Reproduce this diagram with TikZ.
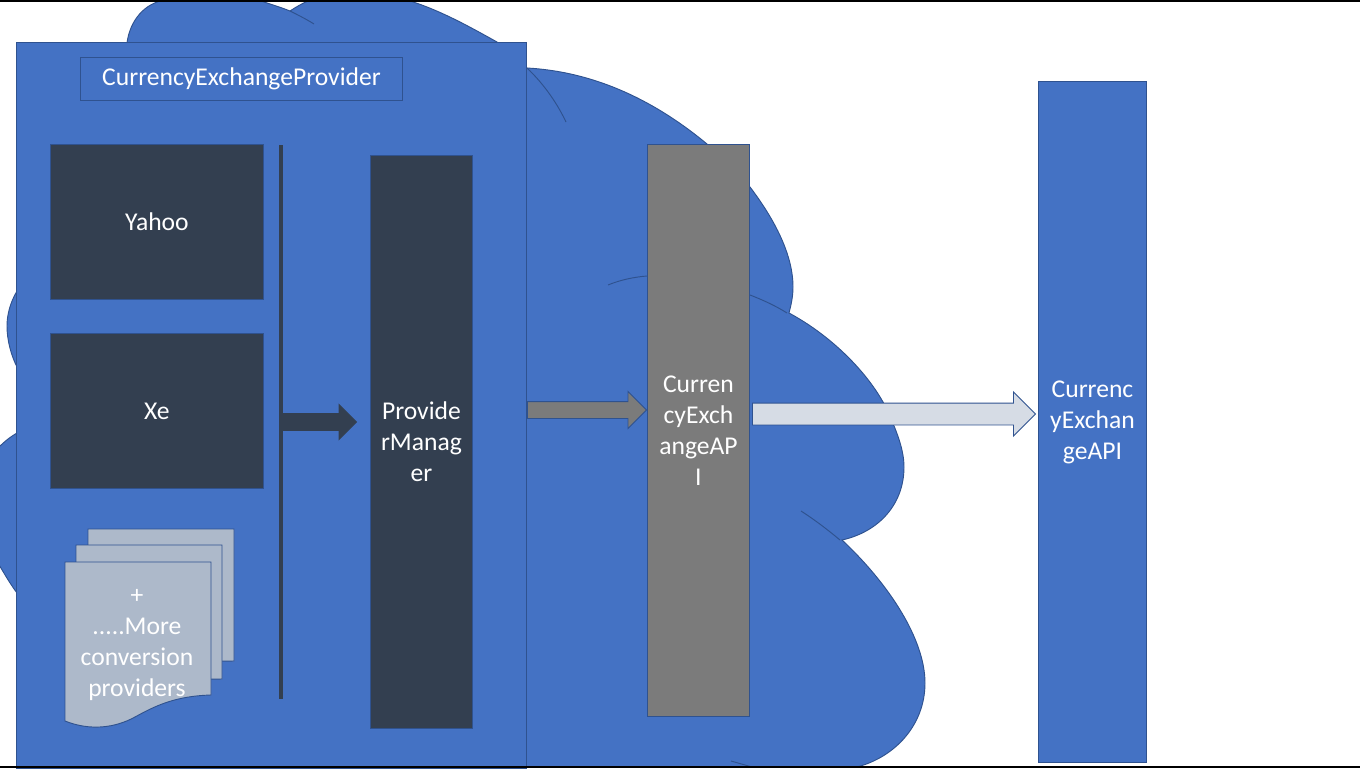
\documentclass[tikz,border=0pt]{standalone}
\usepackage{fontspec}
\setmainfont{Carlito}
\usepackage{xcolor}
\usetikzlibrary{positioning,shapes.arrows}
\definecolor{csBlue}{HTML}{4472C4}
\definecolor{csEdge}{HTML}{2F528F}
\definecolor{csDark}{HTML}{333F50}
\definecolor{csGrey}{HTML}{7B7B7B}
\definecolor{csPage}{HTML}{ADB9CA}
\definecolor{csPale}{HTML}{D6DCE5}
\tikzset{
  cs diagram/.style={font=\fontsize{19.2pt}{23.3pt}\selectfont, text=white,
    line join=miter},
  cs box/.style 2 args={draw=csEdge, fill=csBlue, line width=0.7pt, align=center,
    inner sep=0pt, anchor=north west, minimum width=#1*0.75pt, minimum height=#2*0.75pt},
  cs provider/.style 2 args={cs box={#1}{#2}, fill=csDark},
  cs service/.style 2 args={cs box={#1}{#2}, fill=csGrey},
  cs page/.style={draw=csEdge, fill=csPage, line width=0.7pt},
  cs arrow/.style n args={3}{single arrow, draw=csEdge, line width=0.7pt, inner xsep=0pt,
    inner ysep=#2*0.375pt, minimum height=#1*0.75pt,
    single arrow head extend=#3*0.75pt, anchor=tail},
  cs crease/.style={draw=csEdge, line width=0.7pt},
  cs rule/.style={draw=black, line width=1.5pt}
}
\begin{document}
\begin{tikzpicture}[cs diagram,x=0.75pt,y=-0.75pt]
\useasboundingbox (0,0) rectangle (1360,768);
\fill[white] (0,0) rectangle (1360,768);
% cloud behind everything
\draw[cs crease,fill=csBlue] (17,291) .. controls (10,303) and (7,315) .. (7,326)
  .. controls (7,340) and (11,355) .. (17,367) -- cycle;
\draw[cs crease,fill=csBlue] (17,433) .. controls (10,437) and (4,442) .. (-2,448)
  -- (-2,563) .. controls (5,575) and (11,585) .. (17,593) -- cycle;
\draw[cs crease,fill=csBlue] (127,43) .. controls (130,20) and (145,3) .. (165,0)
  -- (258,0) .. controls (270,4) and (280,7) .. (290,11)
  .. controls (296,7) and (303,3) .. (310,0) -- (407,0)
  .. controls (440,10) and (470,27) .. (497,42) -- (527,68)
  .. controls (600,72) and (660,105) .. (707,144) -- (750,187)
  .. controls (775,220) and (793,255) .. (793,287)
  .. controls (793,297) and (791,305) .. (789,313)
  .. controls (830,335) and (865,370) .. (883,402)
  .. controls (897,430) and (904,450) .. (904,467)
  .. controls (904,505) and (878,532) .. (842,540)
  .. controls (890,585) and (925,640) .. (925,683)
  .. controls (925,725) and (895,757) .. (857,767)
  -- (17,767) -- (17,43) -- cycle;
% creases of the cloud
\draw[cs crease] (290,11) .. controls (298,15) and (306,19) .. (314,24);
\draw[cs crease] (527,68) .. controls (545,85) and (558,105) .. (566,122);
\draw[cs crease] (608,285) .. controls (620,280) and (634,277) .. (647,276);
\draw[cs crease] (750,295) .. controls (763,300) and (776,306) .. (787,313);
\draw[cs crease] (801,511) .. controls (815,520) and (828,530) .. (840,540);
\draw[cs crease] (731,761) .. controls (738,763) and (745,765) .. (752,767);
% provider panel
\node[cs box={510}{726}] (panel) at (16,42) {};
\node[cs box={322}{43}] (title) at (80,57) {CurrencyExchangeProvider};
\node[cs provider={213}{155}] (yahoo) at (50,144) {Yahoo};
\node[cs provider={213}{155}] (xe) at (50,333) {Xe};
\node[cs provider={102}{573}] (manager) at (370,155) {Provide\\rManag\\er};
\node[cs service={102}{572}] (api) at (647,144) {Curren\\cyExch\\angeAP\\I};
\node[cs box={108}{681}] (client) at (1038,81) {Currenc\\yExchan\\geAPI};
% stack of pages
\draw[cs page] (88,529) -- (234,529) -- (234,661) -- (88,663) -- cycle;
\draw[cs page] (76,545) -- (222,545) -- (222,679) -- (76,681) -- cycle;
\draw[cs page] (65,562) -- (211,562) -- (211,695) .. controls (175,696) and (155,706) .. (135,717)
  .. controls (115,728) and (90,731) .. (65,721) -- cycle;
\node[align=center] (more) at (137,645) {+\\.....More\\conversion\\providers};
% bar and arrows
\coordinate (barTop) at (281,145);
\coordinate (barEnd) at (281,699);
\draw[draw=csDark,line width=2.5pt] (barTop) -- (barEnd);
\node[cs arrow={74}{16}{9},fill=csDark,draw=csDark] (gather) at (282,422) {};
\node[cs arrow={119}{16}{10},fill=csGrey] (forward) at (527,410) {};
\node[cs arrow={283}{21}{11},fill=csPale] (expose) at (752,414) {};
% slide edges
\draw[cs rule] (0,0.5) -- (1360,0.5);
\draw[cs rule] (0,767) -- (1360,767);
\end{tikzpicture}
\end{document}
